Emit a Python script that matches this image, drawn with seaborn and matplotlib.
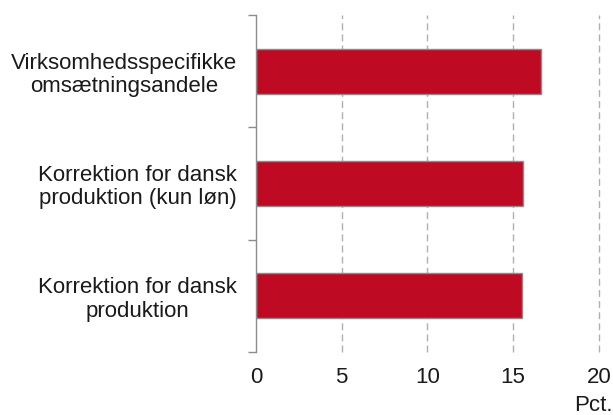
import matplotlib
matplotlib.use("Agg")
import matplotlib.pyplot as plt
import seaborn as sns
import pandas as pd
from matplotlib.ticker import FixedLocator

categories = [
    "Virksomhedsspecifikke\nomsætningsandele",
    "Korrektion for dansk\nproduktion (kun løn)",
    "Korrektion for dansk\nproduktion",
]
values = [16.6, 15.6, 15.5]
x_ticks = [0, 5, 10, 15, 20]
x_unit = "Pct."

df = pd.DataFrame({"kategori": categories, "pct": values})

sns.set_theme(style="white")
plt.rcParams["font.family"] = ["Liberation Sans", "DejaVu Sans"]

fig = plt.figure(figsize=(6.13, 4.15), dpi=100)
ax = fig.add_axes([0.4176, 0.1518, 0.977 - 0.4176, 0.9639 - 0.1518])

sns.barplot(data=df, x="pct", y="kategori", orient="h", color="#BE0A22",
            width=0.4, edgecolor="#8c8c8c", linewidth=1.0, saturation=1, ax=ax)

ax.set_xlim(0, 20)
ax.set_ylim(2.5, -0.5)
ax.set_xticks(x_ticks)
ax.set_xticklabels([str(t) for t in x_ticks], fontsize=16, color="#1a1a1a")
ax.tick_params(axis="x", length=0, pad=10.5)

ax.set_yticks(range(len(categories)))
ax.set_yticklabels(categories, fontsize=16, color="#1a1a1a",
                   multialignment="center", linespacing=1.15)
ax.tick_params(axis="y", which="major", length=0, pad=13.5)
ax.yaxis.set_minor_locator(FixedLocator([-0.5, 0.5, 1.5, 2.5]))
ax.tick_params(axis="y", which="minor", length=6, width=1, color="#8c8c8c", left=True)

ax.set_xlabel("")
ax.set_ylabel("")

for t in x_ticks[1:]:
    ax.axvline(t, color="#b0b0b0", linestyle=(0, (5, 3)), linewidth=1.0,
               zorder=0, clip_on=False)

for s in ["top", "right", "bottom"]:
    ax.spines[s].set_visible(False)
ax.spines["left"].set_color("#8c8c8c")
ax.spines["left"].set_linewidth(1.0)

fig.text(0.999, 0.024, x_unit, ha="right", va="center", fontsize=16, color="#1a1a1a")

fig.savefig("out.png", dpi=100, facecolor="white")
